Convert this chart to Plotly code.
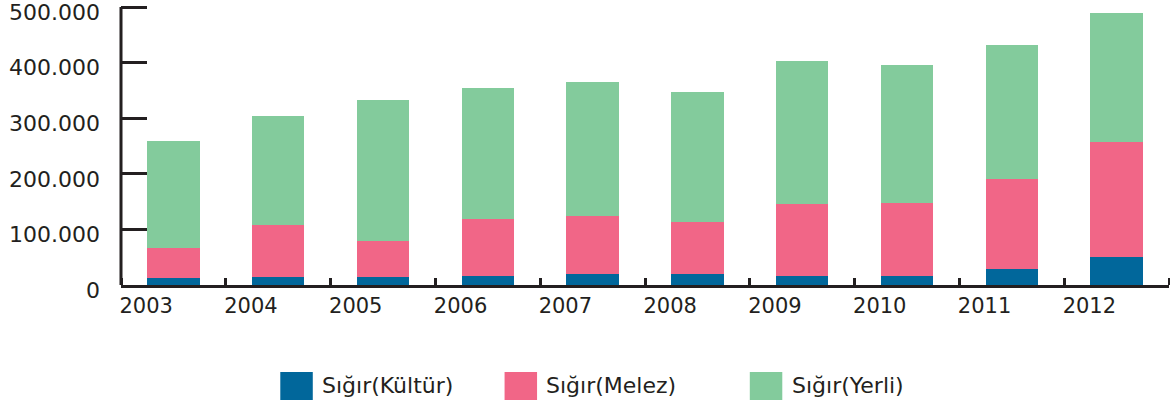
import plotly.graph_objects as go

years = ["2003", "2004", "2005", "2006", "2007", "2008", "2009", "2010", "2011", "2012"]
kultur = [13000, 15000, 14000, 17000, 19000, 20000, 16000, 16000, 29000, 50000]
melez = [54000, 93000, 65000, 102000, 105000, 93000, 130000, 131000, 162000, 207000]
yerli = [192000, 196000, 254000, 235000, 241000, 234000, 257000, 249000, 241000, 232000]

series_names = ["Sığır(Kültür)", "Sığır(Melez)", "Sığır(Yerli)"]
series_values = [kultur, melez, yerli]
colors = ["#01679b", "#f16687", "#83cb9c"]

ytick_vals = [0, 100000, 200000, 300000, 400000, 500000]
ytick_text = ["0", "100.000", "200.000", "300.000", "400.000", "500.000"]

TXT = "#231f20"
FONT = "DejaVu Sans"

xpos = [i + 0.5 for i in range(len(years))]

fig = go.Figure()
for name, vals, col in zip(series_names, series_values, colors):
    fig.add_trace(go.Bar(x=xpos, y=vals, name=name, width=0.5,
                         marker=dict(color=col, line=dict(width=0)),
                         showlegend=False))

fig.update_layout(
    barmode="stack",
    width=1170, height=413,
    margin=dict(l=121, r=1, t=1, b=128, autoexpand=False),
    paper_bgcolor="white", plot_bgcolor="white",
    font=dict(family=FONT, color=TXT, size=20),
    xaxis=dict(range=[0, len(years)], showgrid=False, zeroline=False,
               automargin=False,
               showline=True, linewidth=3, linecolor=TXT,
               tickmode="array", tickvals=[i + 0.24 for i in range(len(years))],
               ticktext=years, ticks="", tickfont=dict(size=21, color=TXT),
               minor=dict(tickmode="linear", tick0=0, dtick=1, ticks="inside",
                          ticklen=7, tickwidth=3, tickcolor=TXT, showgrid=False)),
    yaxis=dict(range=[0, 510800], showgrid=False, zeroline=False,
               automargin=False,
               showline=False,
               tickmode="array", tickvals=ytick_vals, ticktext=ytick_text,
               ticks="inside", ticklen=26, tickwidth=3, tickcolor=TXT,
               ticklabelstandoff=20, ticklabelshift=5, ticklabeloverflow="allow",
               tickfont=dict(size=22, color=TXT)),
)

# y-axis line from 0 to the top tick (axis line stops at 500.000 in the reference)
fig.add_shape(type="line", xref="paper", yref="y", x0=0, x1=0,
              y0=ytick_vals[0], y1=ytick_vals[-1],
              line=dict(color=TXT, width=3))

# custom legend (large square swatches)
leg_sq_x = [0.152, 0.366, 0.600]
sq_w = 0.031
leg_y0, leg_y1 = -0.405, -0.306
for name, col, x0 in zip(series_names, colors, leg_sq_x):
    fig.add_shape(type="rect", xref="paper", yref="paper",
                  x0=x0, x1=x0 + sq_w, y0=leg_y0, y1=leg_y1,
                  fillcolor=col, line=dict(width=0))
    fig.add_annotation(xref="paper", yref="paper", x=x0 + sq_w + 0.007,
                       y=(leg_y0 + leg_y1) / 2,
                       text=name, showarrow=False, xanchor="left", yanchor="middle",
                       font=dict(size=22, color=TXT, family=FONT))

fig.write_html("out.html", post_script="document.body.style.margin='0';",
               config={"displayModeBar": False})
